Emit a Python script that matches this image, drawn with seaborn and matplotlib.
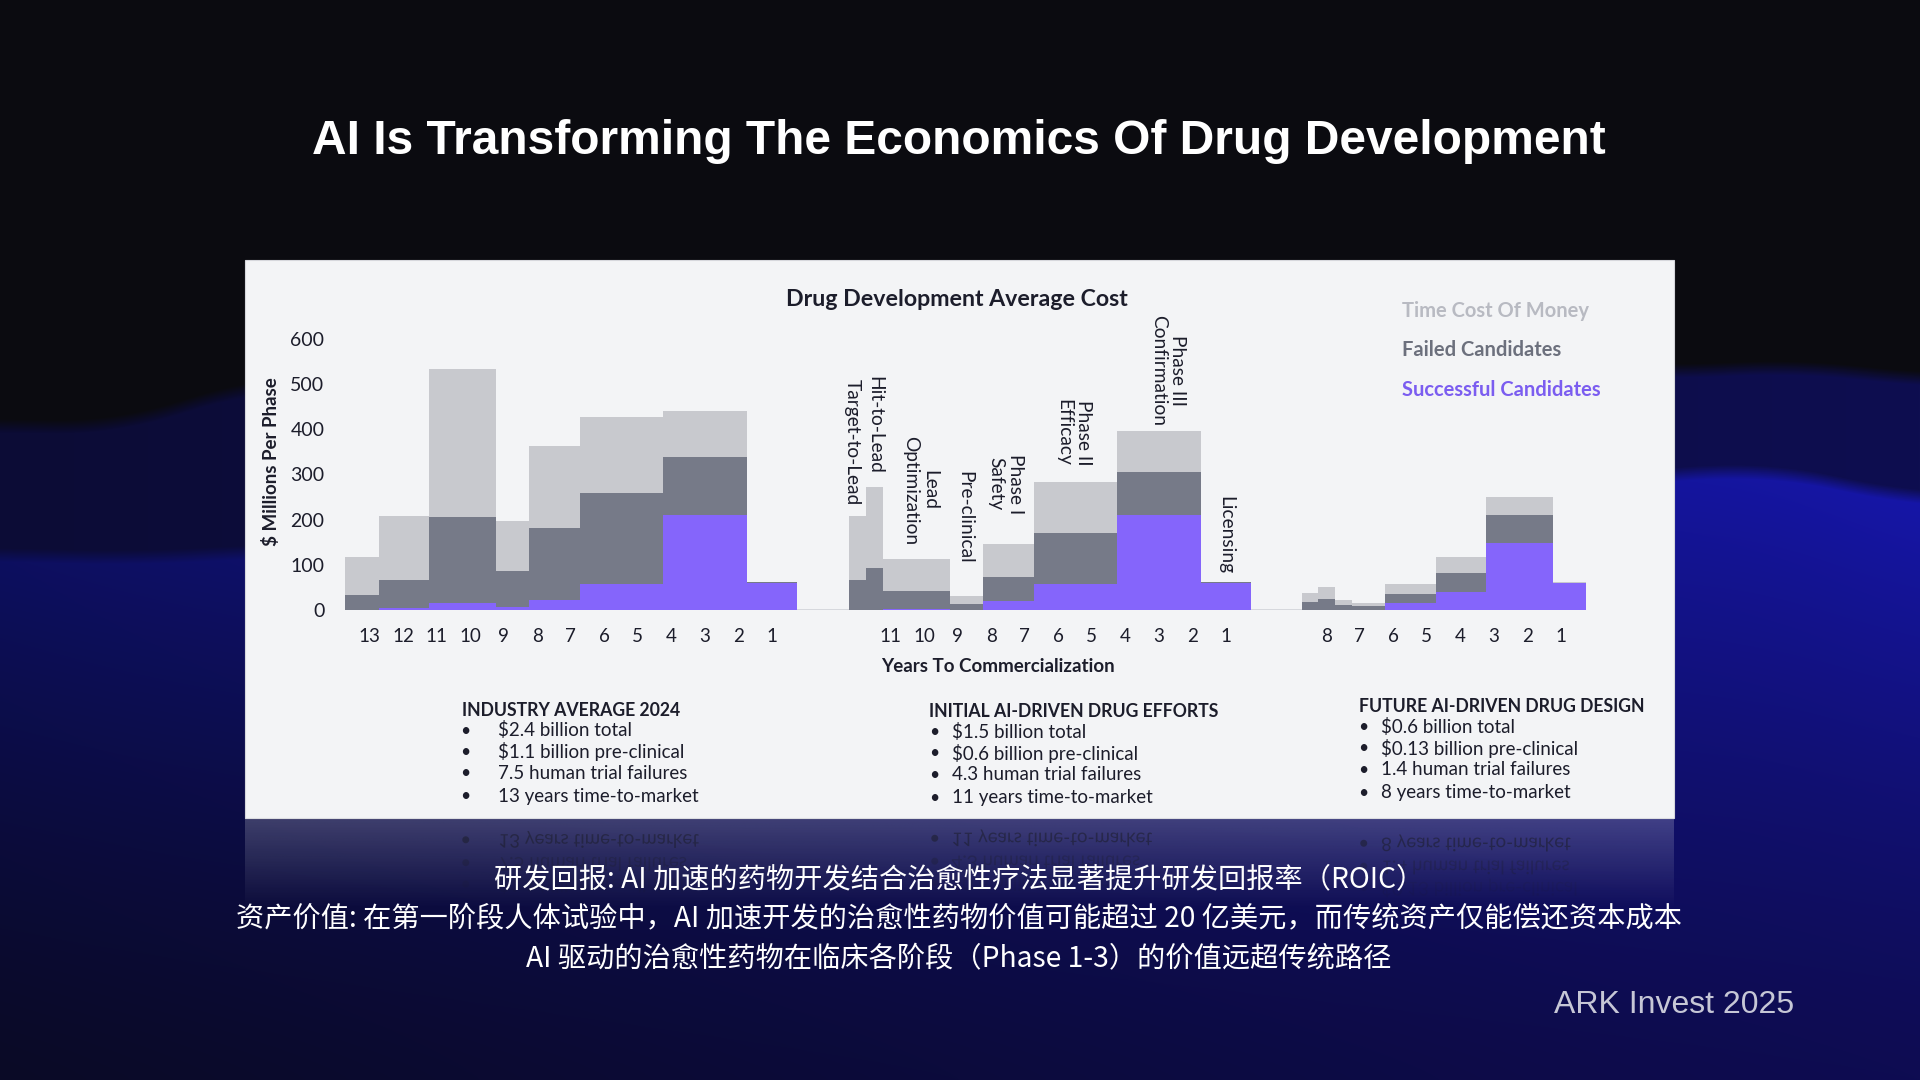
import numpy as np
import pandas as pd
import matplotlib
matplotlib.use("Agg")
import matplotlib.pyplot as plt
import seaborn as sns
from matplotlib.patches import Rectangle, PathPatch
from matplotlib.textpath import TextPath
from matplotlib.font_manager import FontProperties
from matplotlib.transforms import Affine2D

# ---------------- data ----------------
phases = ["Target-to-Lead", "Hit-to-Lead", "Lead\nOptimization", "Pre-clinical",
          "Phase I\nSafety", "Phase II\nEfficacy", "Phase III\nConfirmation", "Licensing"]
components = ["Time Cost Of Money", "Failed Candidates", "Successful Candidates"]

# phase durations (years)
industry_years = [1.0, 1.5, 2.0, 1.0, 1.5, 2.5, 2.5, 1.5]
initial_ai_years = [0.5, 0.5, 2.0, 1.0, 1.5, 2.5, 2.5, 1.5]
future_ai_years = [0.5, 0.5, 0.5, 1.0, 1.5, 1.5, 2.0, 1.0]

# $ millions per phase
industry_success = [0, 4, 15, 6, 22, 57, 211, 60]
industry_failed = [33, 62, 190, 80, 160, 201, 127, 1]
industry_time = [85, 142, 329, 110, 180, 170, 102, 2]

initial_success = [0, 0, 1.5, 1, 21, 57, 210, 60]
initial_failed = [66, 92, 41.5, 12, 51, 114, 95, 1]
initial_time = [141, 181, 71, 17, 74, 113, 92, 2]

future_success = [0, 0, 0, 1, 16, 40, 148, 59]
future_failed = [17, 24, 11, 8, 19, 43, 62, 1]
future_time = [21, 27, 11, 7, 23, 34, 41, 2]

industry_ticks = [13, 12, 11, 10, 9, 8, 7, 6, 5, 4, 3, 2, 1]
initial_ticks = [11, 10, 9, 8, 7, 6, 5, 4, 3, 2, 1]
future_ticks = [8, 7, 6, 5, 4, 3, 2, 1]

y_ticks = [0, 100, 200, 300, 400, 500, 600]

scenario_titles = ["INDUSTRY AVERAGE 2024", "INITIAL AI-DRIVEN DRUG EFFORTS", "FUTURE AI-DRIVEN DRUG DESIGN"]
industry_bullets = ["$2.4 billion total", "$1.1 billion pre-clinical",
                    "7.5 human trial failures", "13 years time-to-market"]
initial_bullets = ["$1.5 billion total", "$0.6 billion pre-clinical",
                   "4.3 human trial failures", "11 years time-to-market"]
future_bullets = ["$0.6 billion total", "$0.13 billion pre-clinical",
                  "1.4 human trial failures", "8 years time-to-market"]

slide_title = "AI Is Transforming The Economics Of Drug Development"
chart_title = "Drug Development Average Cost"
y_label = "$ Millions Per Phase"
x_label = "Years To Commercialization"
notes = ["研发回报: AI 加速的药物开发结合治愈性疗法显著提升研发回报率（ROIC）",
         "资产价值: 在第一阶段人体试验中，AI 加速开发的治愈性药物价值可能超过 20 亿美元，而传统资产仅能偿还资本成本",
         "AI 驱动的治愈性药物在临床各阶段（Phase 1-3）的价值远超传统路径"]
source = "ARK Invest 2025"

# ---------------- layout / style ----------------
W, H = 1920, 1080
GROUP_END = [13.95, 27.5, 37.5]   # x position where each scenario reaches commercialization
TICK_SHIFT = 0.24
PX_PER_YEAR = 33.5
PHASE_LABEL_Y = [372, 409, 265, 206, 279, 392, 531, 166]
PHASE_LABEL_DX = [-0.15, 0.0, 0.12, -0.06, -0.08, -0.05, 0.26, 0.0]
palette = {"Time Cost Of Money": "#c8c9ce",
           "Failed Candidates": "#767a88",
           "Successful Candidates": "#8565fb"}
legend_colors = ["#b8bac2", "#6c707d", "#7b5df0"]
TXT = "#1c1d2b"
CHART_FONT = ["Lato", "DejaVu Sans"]
CJK_FONT = ["Noto Sans CJK SC", "DejaVu Sans"]

sns.set_theme(style="white")
plt.rcParams["font.family"] = CHART_FONT

# ---------------- build long-form table ----------------
groups = [
    (industry_years, industry_success, industry_failed, industry_time, industry_ticks),
    (initial_ai_years, initial_success, initial_failed, initial_time, initial_ticks),
    (future_ai_years, future_success, future_failed, future_time, future_ticks),
]
rows, edges, centers_by_group, tick_pos, tick_lab = [], [], [], [], []
for g, (yrs, s, f, t, ticks) in enumerate(groups):
    end = GROUP_END[g]
    cum = np.concatenate([[0.0], np.cumsum(yrs)])
    left = end - cum[-1] + cum[:-1]
    right = end - cum[-1] + cum[1:]
    ctr = (left + right) / 2
    centers_by_group.append(ctr)
    edges.extend(left.tolist() + right.tolist())
    for i in range(len(yrs)):
        rows.append((ctr[i], s[i], components[2], g))
        rows.append((ctr[i], f[i], components[1], g))
        rows.append((ctr[i], t[i], components[0], g))
    for k in ticks:
        tick_pos.append(end - k + TICK_SHIFT)
        tick_lab.append(str(k))
df = pd.DataFrame(rows, columns=["x", "value", "component", "group"])
bins = [float(b) for b in np.unique(np.round(edges, 6))]

# ---------------- background ----------------
fig = plt.figure(figsize=(19.2, 10.8), dpi=100)
bgax = fig.add_axes([0, 0, 1, 1])
xs = np.arange(W)


def smooth(a, k=141):
    p = np.pad(a, k // 2, mode="edge")
    return np.convolve(p, np.ones(k) / k, mode="valid")


y1 = smooth(np.interp(xs, [0, 120, 200, 245, 700, 1200, 1674, 1800, 1920],
                      [425, 428, 400, 385, 362, 352, 372, 365, 380]))
y2 = smooth(np.interp(xs, [0, 130, 245, 800, 1300, 1674, 1760, 1920],
                      [554, 558, 552, 525, 492, 475, 467, 500]))
Y = np.arange(H)[:, None].astype(float)
fx = (xs / (W - 1))[None, :, None]
top = np.array([11, 11, 16], float)
c1 = np.array([12, 12, 54], float) + (np.array([14, 14, 80], float) - np.array([12, 12, 54], float)) * fx
c2top = np.array([13, 15, 96], float) + (np.array([22, 22, 168], float) - np.array([13, 15, 96], float)) * fx
c2bot = np.array([10, 10, 38], float) + (np.array([14, 12, 82], float) - np.array([10, 10, 38], float)) * fx
t = np.clip((Y - y2[None, :]) / (H - y2[None, :]), 0, 1)[..., None]
c2 = c2top * (1 - t) ** 1.3 + c2bot * (1 - (1 - t) ** 1.3)
a1 = np.clip((Y - y1[None, :]) / 14 + 0.5, 0, 1)[..., None]
a2 = np.clip((Y - y2[None, :]) / 14 + 0.5, 0, 1)[..., None]
img = top * (1 - a1) + c1 * a1
img = img * (1 - a2) + c2 * a2
bgax.imshow(np.clip(img, 0, 255).astype(np.uint8), extent=[0, W, H, 0], aspect="auto",
            interpolation="bilinear", zorder=0)
bgax.set_xlim(0, W)
bgax.set_ylim(H, 0)
bgax.axis("off")

# panel
bgax.add_patch(Rectangle((245, 260), 1429, 558, facecolor="#f3f4f6", edgecolor="#d6d7dc",
                         lw=0.8, zorder=1))
# reflection of the panel
refl = np.zeros((100, 10, 4))
refl[..., :3] = np.array([243, 244, 246]) / 255
refl[..., 3] = np.linspace(0.22, 0.0, 100)[:, None]
bgax.imshow(refl, extent=[245, 1674, 910, 818], aspect="auto", zorder=1.5)

# ---------------- chart axes ----------------
ax_left, ax_w = 330, 1290
ax_bottom_px = 610
ylim_top = 700
ax_h = ylim_top * 0.4517
ax = fig.add_axes([ax_left / W, (H - ax_bottom_px) / H, ax_w / W, ax_h / H])
ax.patch.set_alpha(0)

ax.plot([bins[0], bins[-1]], [0, 0], color="#d3d5db", lw=1.3, zorder=0.5, solid_capstyle="butt")

sns.histplot(data=df, x="x", weights="value", hue="component", hue_order=components,
             bins=bins, multiple="stack", element="bars", palette=palette, alpha=1,
             linewidth=0, edgecolor="none", legend=False, ax=ax)

ax.set_xlim(0, ax_w / PX_PER_YEAR)
ax.set_ylim(0, ylim_top)
ax.set_xlabel("")
ax.set_ylabel("")
ax.set_xticks(tick_pos)
ax.set_xticklabels(tick_lab)
ax.set_yticks(y_ticks)
ax.set_yticklabels([str(v) for v in y_ticks])
ax.tick_params(axis="x", length=0, pad=13, labelsize=13.5, labelcolor=TXT)
ax.tick_params(axis="y", length=0, pad=4, labelsize=14, labelcolor=TXT)
for sp in ax.spines.values():
    sp.set_visible(False)
ax.grid(False)

# phase labels above middle scenario
ctr2 = centers_by_group[1]
for i, lab in enumerate(phases):
    ax.text(ctr2[i] + PHASE_LABEL_DX[i], PHASE_LABEL_Y[i], lab, rotation=270, ha="center",
            va="center", multialignment="center", linespacing=1.15, fontsize=13.8,
            color=TXT, clip_on=False)

# ---------------- texts on slide ----------------
bgax.text(959, 142, slide_title, ha="center", va="center", color="white", fontsize=34.5,
          fontweight="bold", family=["Liberation Sans", "DejaVu Sans"], zorder=3)
bgax.text(956.5, 300, chart_title, ha="center", va="center", color=TXT, fontsize=16.7,
          fontweight="bold", zorder=3)
for i, (lab, col) in enumerate(zip(components, legend_colors)):
    bgax.text(1401.7, 310.7 + i * 39.7, lab, ha="left", va="center", color=col,
              fontsize=14.5, fontweight="bold", zorder=3)
bgax.text(271, 462, y_label, ha="center", va="center", rotation=90, color=TXT,
          fontsize=13.5, fontweight="bold", zorder=3)
bgax.text(998, 666.7, x_label, ha="center", va="center", color=TXT,
          fontsize=13.5, fontweight="bold", zorder=3)

block_head_x = [461.7, 929.4, 1359]
block_head_y = [710, 711.5, 706.5]
block_bullet_x = [465, 934, 1363]
block_text_x = [498.3, 951.5, 1381]
line_gap = 21.4
fs_body = 13.5
for b, bullets in enumerate([industry_bullets, initial_bullets, future_bullets]):
    bgax.text(block_head_x[b], block_head_y[b], scenario_titles[b], ha="left", va="center",
              color=TXT, fontsize=12.7, fontweight="bold", zorder=3)
    for j, line in enumerate(bullets):
        yy = block_head_y[b] + 20.5 + j * line_gap + (1.5 if j == 3 else 0)
        bgax.text(block_bullet_x[b], yy, "•", ha="center", va="center", color=TXT,
                  fontsize=fs_body - 1, zorder=3)
        bgax.text(block_text_x[b], yy, line, ha="left", va="center", color=TXT,
                  fontsize=fs_body, zorder=3)
        # mirrored reflection below the panel
        if j >= 1:
            alpha = {3: 0.55, 2: 0.3, 1: 0.12}[j]
            em = fs_body * 100 / 72
            base = 2 * 818 - (yy + 0.3 * em)
            fp = FontProperties(family="Lato", size=fs_body)
            for xx, s in [(block_bullet_x[b] - 0.25 * em, "•"), (block_text_x[b], line)]:
                tp = TextPath((0, 0), s, size=em, prop=fp)
                patch = PathPatch(tp, transform=Affine2D().translate(xx, base) + bgax.transData,
                                  facecolor=TXT, edgecolor="none", alpha=alpha, zorder=2)
                bgax.add_patch(patch)

for i, line in enumerate(notes):
    bgax.text(959, [879, 918, 959][i], line, ha="center", va="center", color="white",
              fontsize=20.3, fontweight="medium", family=CJK_FONT, zorder=3)
bgax.text(1794, 1005, source, ha="right", va="center", color="#c6c7d6", fontsize=23,
          family=["Liberation Sans", "DejaVu Sans"], zorder=3)

fig.savefig("out.png", dpi=100)
